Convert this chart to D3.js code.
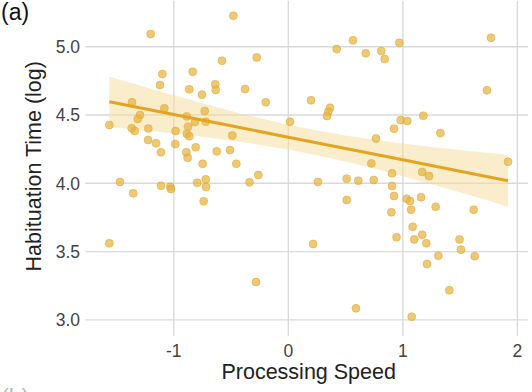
<!DOCTYPE html>
<html><head><meta charset="utf-8">
<script src="https://cdn.jsdelivr.net/npm/d3@7"></script>
<style>body{margin:0;background:#fff;}svg{display:block;font-family:"Liberation Sans",Arial,sans-serif;}</style>
</head><body><svg id="chart" width="532" height="392"></svg>
<script>
const processingSpeed = [-1.202,-1.100,-1.121,-0.835,-0.865,-1.365,-1.083,-1.295,-1.315,-1.563,-1.368,-1.341,-1.223,-0.887,-0.876,-0.985,-0.885,-0.865,-0.480,-0.579,-0.276,-0.754,-0.638,-0.634,-0.378,-0.197,-0.730,-0.815,-0.721,-0.489,0.015,0.198,0.364,0.349,0.338,0.423,0.565,0.676,0.812,0.842,0.969,1.770,1.735,0.982,1.039,1.179,0.923,1.328,0.766,-1.225,-1.155,-1.112,-0.987,-0.809,-0.891,-0.879,-0.748,-0.625,-0.509,-0.454,-1.470,-1.354,-1.112,-1.031,-1.024,-0.795,-0.721,-0.719,-0.739,-0.339,-0.262,0.259,0.510,0.611,0.746,0.510,0.725,1.919,0.906,1.170,1.229,0.906,0.923,1.034,1.063,1.159,0.900,1.072,1.287,1.619,1.086,0.945,1.100,1.169,1.495,-1.563,-0.282,0.216,1.205,1.310,1.211,1.508,1.628,1.406,0.591,1.078];
const habituationTime = [5.093,4.800,4.720,4.817,4.688,4.593,4.549,4.500,4.471,4.427,4.403,4.383,4.401,4.490,4.414,4.383,4.361,4.344,5.227,4.898,4.922,4.649,4.725,4.683,4.690,4.593,4.529,4.449,4.451,4.350,4.451,4.608,4.553,4.524,4.493,4.983,5.047,4.952,4.969,4.910,5.029,5.066,4.681,4.463,4.456,4.495,4.400,4.368,4.328,4.317,4.293,4.227,4.288,4.264,4.227,4.187,4.143,4.234,4.244,4.143,4.010,3.927,3.982,3.975,3.958,4.004,4.029,3.973,3.868,4.007,4.061,4.010,4.034,4.019,4.024,3.878,4.146,4.158,4.073,4.083,4.053,3.980,3.907,3.887,3.870,3.898,3.788,3.807,3.829,3.807,3.682,3.605,3.589,3.623,3.589,3.561,3.277,3.556,3.561,3.470,3.409,3.514,3.466,3.217,3.085,3.023];
// fitted trend line and 95% confidence band
const fitX = [-1.563, -1, -0.5, 0, 0.5, 1, 1.5, 1.919];
const fitY = [4.597, 4.504, 4.421, 4.338, 4.255, 4.172, 4.089, 4.019];
const ciHalfWidth = [0.183, 0.140, 0.108, 0.091, 0.096, 0.120, 0.155, 0.190];
const xTicks = [-1, 0, 1, 2];
const yTicks = [3.0, 3.5, 4.0, 4.5, 5.0];
const xTitle = "Processing Speed";
const yTitle = "Habituation Time (log)";
const panelLabel = "(a)";
const nextPanelLabel = "(b)";

const svg = d3.select("#chart");
const pl = 89.4, pr = 528, pt = 0.7, pb = 331.8;

function expand(ext){const d=(ext[1]-ext[0])*0.05;return [ext[0]-d, ext[1]+d];}
const x = d3.scaleLinear().domain(expand(d3.extent(processingSpeed))).range([pl, pr]);
const y = d3.scaleLinear().domain(expand(d3.extent(habituationTime))).range([pb, pt]);

// grid
const g = svg.append("g");
g.selectAll(".gx").data(xTicks).enter().append("line")
  .attr("x1", d=>x(d)).attr("x2", d=>x(d)).attr("y1", pt).attr("y2", pb+4)
  .attr("stroke", "#dadada").attr("stroke-width", 1.4);
g.selectAll(".gy").data(yTicks).enter().append("line")
  .attr("x1", pl-4).attr("x2", pr).attr("y1", d=>y(d)).attr("y2", d=>y(d))
  .attr("stroke", "#dadada").attr("stroke-width", 1.4);

const fit = fitX.map((v,i)=>({x:v, f:fitY[i], lo:fitY[i]-ciHalfWidth[i], hi:fitY[i]+ciHalfWidth[i]}));

svg.append("path").datum(fit)
  .attr("d", d3.area().curve(d3.curveMonotoneX).x(d=>x(d.x)).y0(d=>y(d.lo)).y1(d=>y(d.hi)))
  .attr("fill", "#f6dc9a").attr("fill-opacity", 0.5);

// points
const pts = processingSpeed.map((v,i)=>({x:v, y:habituationTime[i]}));
svg.selectAll(".pt").data(pts).enter().append("circle")
  .attr("cx", d=>x(d.x)).attr("cy", d=>y(d.y)).attr("r", 4)
  .attr("fill", "#e6b440").attr("fill-opacity", 0.72)
  .attr("stroke", "#dba52a").attr("stroke-opacity", 0.6).attr("stroke-width", 0.8);

svg.append("path").datum(fit)
  .attr("d", d3.line().x(d=>x(d.x)).y(d=>y(d.f)))
  .attr("fill", "none").attr("stroke", "#e2a521").attr("stroke-width", 3);

// tick labels
svg.selectAll(".xt").data(xTicks).enter().append("text")
  .attr("x", d=>x(d)).attr("y", 356.5).attr("text-anchor", "middle")
  .attr("font-size", 17.5).attr("fill", "#444").text(d=>String(d));
svg.selectAll(".yt").data(yTicks).enter().append("text")
  .attr("x", 80).attr("y", d=>y(d)+6.3).attr("text-anchor", "end")
  .attr("font-size", 17.5).attr("fill", "#444").text(d=>d3.format(".1f")(d));

svg.append("text").attr("x", (pl+pr)/2).attr("y", 378.5).attr("text-anchor", "middle")
  .attr("font-size", 21.5).attr("fill", "#222").text(xTitle);
svg.append("text").attr("transform", `translate(41,${(pt+pb)/2}) rotate(-90)`).attr("text-anchor", "middle")
  .attr("font-size", 21.5).attr("fill", "#222").text(yTitle);
svg.append("text").attr("x", 1).attr("y", 20).attr("font-size", 23).attr("fill", "#111").text(panelLabel);
svg.append("text").attr("x", 1).attr("y", 406).attr("font-size", 23).attr("fill", "#bbb").text(nextPanelLabel);
</script></body></html>
